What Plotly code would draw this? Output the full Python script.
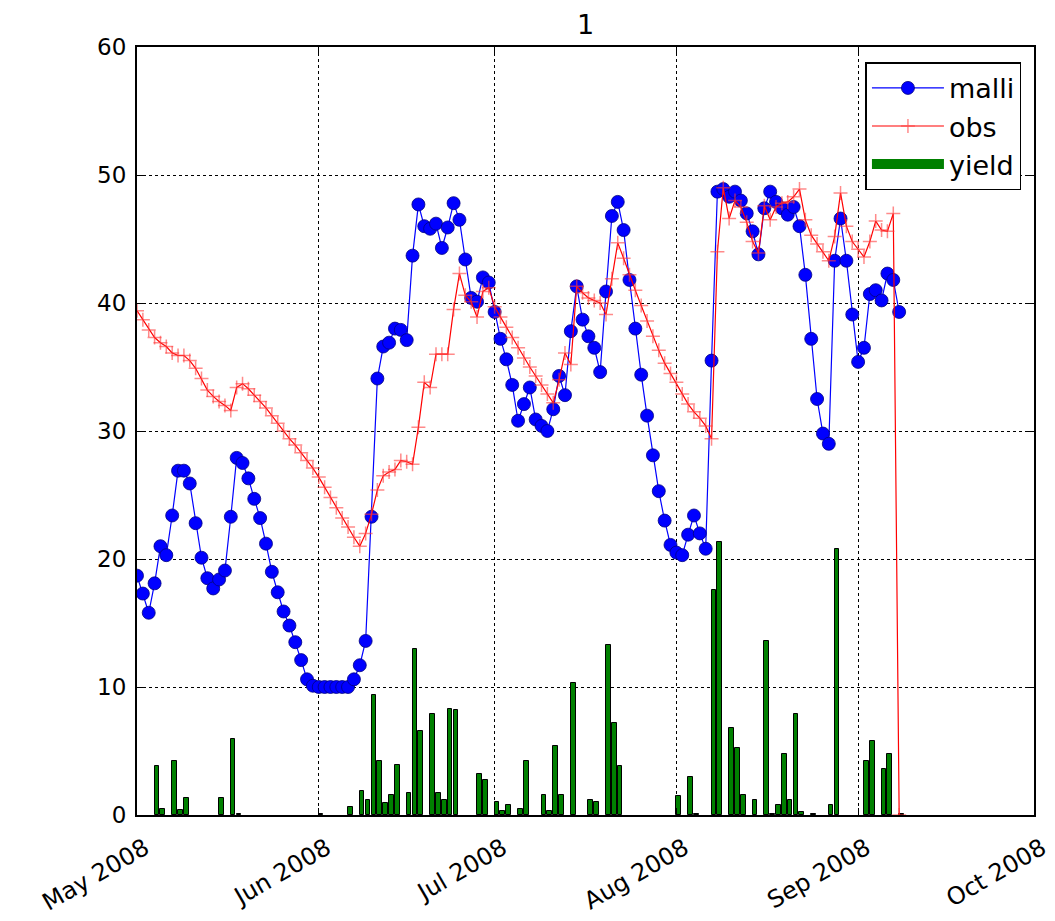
import pandas as pd
import plotly.graph_objects as go

start_date = "2008-05-01"

malli = [18.7, 17.3, 15.8, 18.1, 21.0, 20.3, 23.4, 26.9, 26.9, 25.9,
         22.8, 20.1, 18.5, 17.7, 18.4, 19.1, 23.3, 27.9, 27.5, 26.3,
         24.7, 23.2, 21.2, 19.0, 17.4, 15.9, 14.8, 13.5, 12.1, 10.6,
         10.1, 10.0, 10.0, 10.0, 10.0, 10.0, 10.0, 10.6, 11.7, 13.6,
         23.3, 34.1, 36.6, 36.9, 38.0, 37.9, 37.1, 43.7, 47.7, 46.0,
         45.8, 46.2, 44.3, 45.9, 47.8, 46.5, 43.4, 40.4, 40.1, 42.0,
         41.6, 39.3, 37.2, 35.6, 33.6, 30.8, 32.1, 33.4, 30.9, 30.4,
         30.0, 31.7, 34.3, 32.8, 37.8, 41.3, 38.7, 37.4, 36.5, 34.6,
         40.9, 46.8, 47.9, 45.7, 41.8, 38.0, 34.4, 31.2, 28.1, 25.3,
         23.0, 21.1, 20.5, 20.3, 21.9, 23.4, 22.0, 20.8, 35.5, 48.7,
         48.9, 48.3, 48.7, 48.0, 47.0, 45.6, 43.8, 47.4, 48.7, 47.9,
         47.4, 46.9, 47.5, 46.0, 42.2, 37.2, 32.5, 29.8, 29.0, 43.3,
         46.6, 43.3, 39.1, 35.4, 36.5, 40.7, 41.0, 40.2, 42.3, 41.8,
         39.3]

obs = [39.4, 38.7, 37.9, 37.3, 36.9, 36.6, 36.1, 35.9, 35.9, 35.5,
       34.9, 34.1, 33.2, 32.7, 32.3, 32.0, 31.6, 33.4, 33.7, 33.3,
       32.8, 32.3, 31.8, 31.2, 30.6, 30.0, 29.4, 28.9, 28.3, 27.7,
       27.1, 26.4, 25.6, 24.8, 24.0, 23.2, 22.5, 21.7, 21.0, 22.0,
       23.5, 25.4, 26.5, 26.8, 27.0, 27.7, 27.6, 27.4, 30.3, 33.8,
       33.4, 36.0, 36.0, 36.0, 39.5, 42.3, 40.6, 40.1, 38.9, 40.9,
       41.2, 39.7, 38.9, 38.1, 37.3, 36.5, 35.7, 35.0, 34.3, 33.6,
       32.9, 32.2, 34.0, 36.1, 35.2, 41.3, 40.8, 40.4, 40.2, 40.0,
       39.1, 41.9, 44.7, 43.5, 42.2, 41.0, 39.8, 38.6, 37.4, 36.3,
       35.3, 34.5, 33.8, 32.9, 32.1, 31.5, 31.0, 30.4, 29.4, 44.0,
       49.0, 46.6, 48.0, 47.5, 46.3, 44.8, 43.9, 47.6, 46.5, 47.5,
       47.8, 47.9, 48.3, 48.9, 46.5, 45.3, 44.6, 44.0, 43.3, 45.2,
       48.6, 46.0, 44.8, 44.2, 43.6, 44.8, 46.4, 45.7, 45.6, 47.0,
       0.0]

yield_days = [3, 4, 6, 7, 8, 14, 16, 17, 31, 36, 38, 39, 40, 41, 42, 43, 44, 46,
              47, 48, 50, 51, 52, 53, 54, 58, 59, 61, 62, 63, 65, 66, 69, 70, 71,
              72, 74, 77, 78, 80, 81, 82, 92, 94, 95, 98, 99, 101, 102, 103, 105,
              107, 108, 109, 110, 111, 112, 113, 115, 118, 119, 124, 125, 127,
              128, 130]
yield_vals = [3.8, 0.5, 4.2, 0.4, 1.3, 1.3, 5.9, 0.1, 0.1, 0.6, 1.9, 1.2, 9.4, 4.2,
              0.9, 1.6, 3.9, 1.7, 13.0, 6.6, 7.9, 1.7, 1.2, 8.3, 8.2, 3.2, 2.7,
              1.0, 0.3, 0.8, 0.5, 4.2, 1.6, 0.3, 5.4, 1.6, 10.3, 1.2, 1.0, 13.3,
              7.2, 3.8, 1.5, 3.0, 0.1, 17.6, 21.3, 6.8, 5.2, 1.6, 1.2, 13.6, 0.1,
              0.8, 4.8, 1.2, 7.9, 0.2, 0.1, 0.8, 20.8, 4.2, 5.8, 3.6, 4.8, 0.1]

month_ticks = ["2008-05-01", "2008-06-01", "2008-07-01", "2008-08-01",
               "2008-09-01", "2008-10-01"]
month_labels = ["May 2008", "Jun 2008", "Jul 2008", "Aug 2008", "Sep 2008", "Oct 2008"]
y_ticks = [0, 10, 20, 30, 40, 50, 60]

t0 = pd.Timestamp(start_date)
dates_m = pd.date_range(start_date, periods=len(malli), freq="D")
dates_o = pd.date_range(start_date, periods=len(obs), freq="D")
dates_y = [t0 + pd.Timedelta(days=d) for d in yield_days]

DAY_MS = 86400000
FONT = "DejaVu Sans"
GREEN = "#008000"

fig = go.Figure()
fig.add_trace(go.Scatter(
    x=dates_m, y=malli, name="malli", mode="lines+markers",
    line=dict(color="#0000ff", width=1.2),
    marker=dict(symbol="circle", size=13, color="#0000ff",
                line=dict(color="#000080", width=0.8)),
))
fig.add_trace(go.Scatter(
    x=dates_o, y=obs, name="obs", mode="lines+markers",
    line=dict(color="#ff0000", width=1.2),
    marker=dict(symbol="cross-thin", size=10,
                line=dict(color="rgba(255,60,60,0.6)", width=1.5)),
))
fig.add_trace(go.Bar(
    x=dates_y, y=yield_vals, name="yield", legendgroup="yield",
    showlegend=False,
    width=0.8 * DAY_MS, offset=0,
    marker=dict(color=GREEN, line=dict(color="#000000", width=1)),
))
# legend swatch for the bars (wide green rectangle like the reference)
fig.add_trace(go.Scatter(
    x=[None], y=[None], name="yield", legendgroup="yield", mode="lines",
    line=dict(color=GREEN, width=24), hoverinfo="skip",
))

axis_common = dict(
    showline=True, linecolor="black", linewidth=2, mirror="allticks",
    ticks="inside", ticklen=7, tickwidth=1, tickcolor="black",
    showgrid=True, gridcolor="black", gridwidth=1, griddash="dot",
    zeroline=False,
)

fig.update_layout(
    width=1055, height=921,
    margin=dict(l=129, r=23, t=39, b=114),
    paper_bgcolor="white", plot_bgcolor="white",
    title=dict(text="1", x=0.5, xref="paper", xanchor="center",
               y=1 - 17 / 921, yref="container", yanchor="middle",
               font=dict(family=FONT, size=27, color="black")),
    xaxis=dict(type="date", range=["2008-05-01", "2008-10-01"],
               tickvals=month_ticks, ticktext=month_labels, tickangle=-30,
               ticklabelstandoff=8, ticklabelshift=8,
               tickfont=dict(family=FONT, size=24, color="black"),
               **axis_common),
    yaxis=dict(range=[0, 60], tickvals=y_ticks, ticklabelstandoff=4,
               tickfont=dict(family=FONT, size=23, color="black"),
               **axis_common),
    legend=dict(x=0.986, y=0.98, xanchor="right", yanchor="top",
                bordercolor="black", borderwidth=1.5, bgcolor="white",
                font=dict(family=FONT, size=27, color="black"),
                itemwidth=72, traceorder="normal"),
    showlegend=True,
    bargap=0,
)

fig.write_html("out.html")
